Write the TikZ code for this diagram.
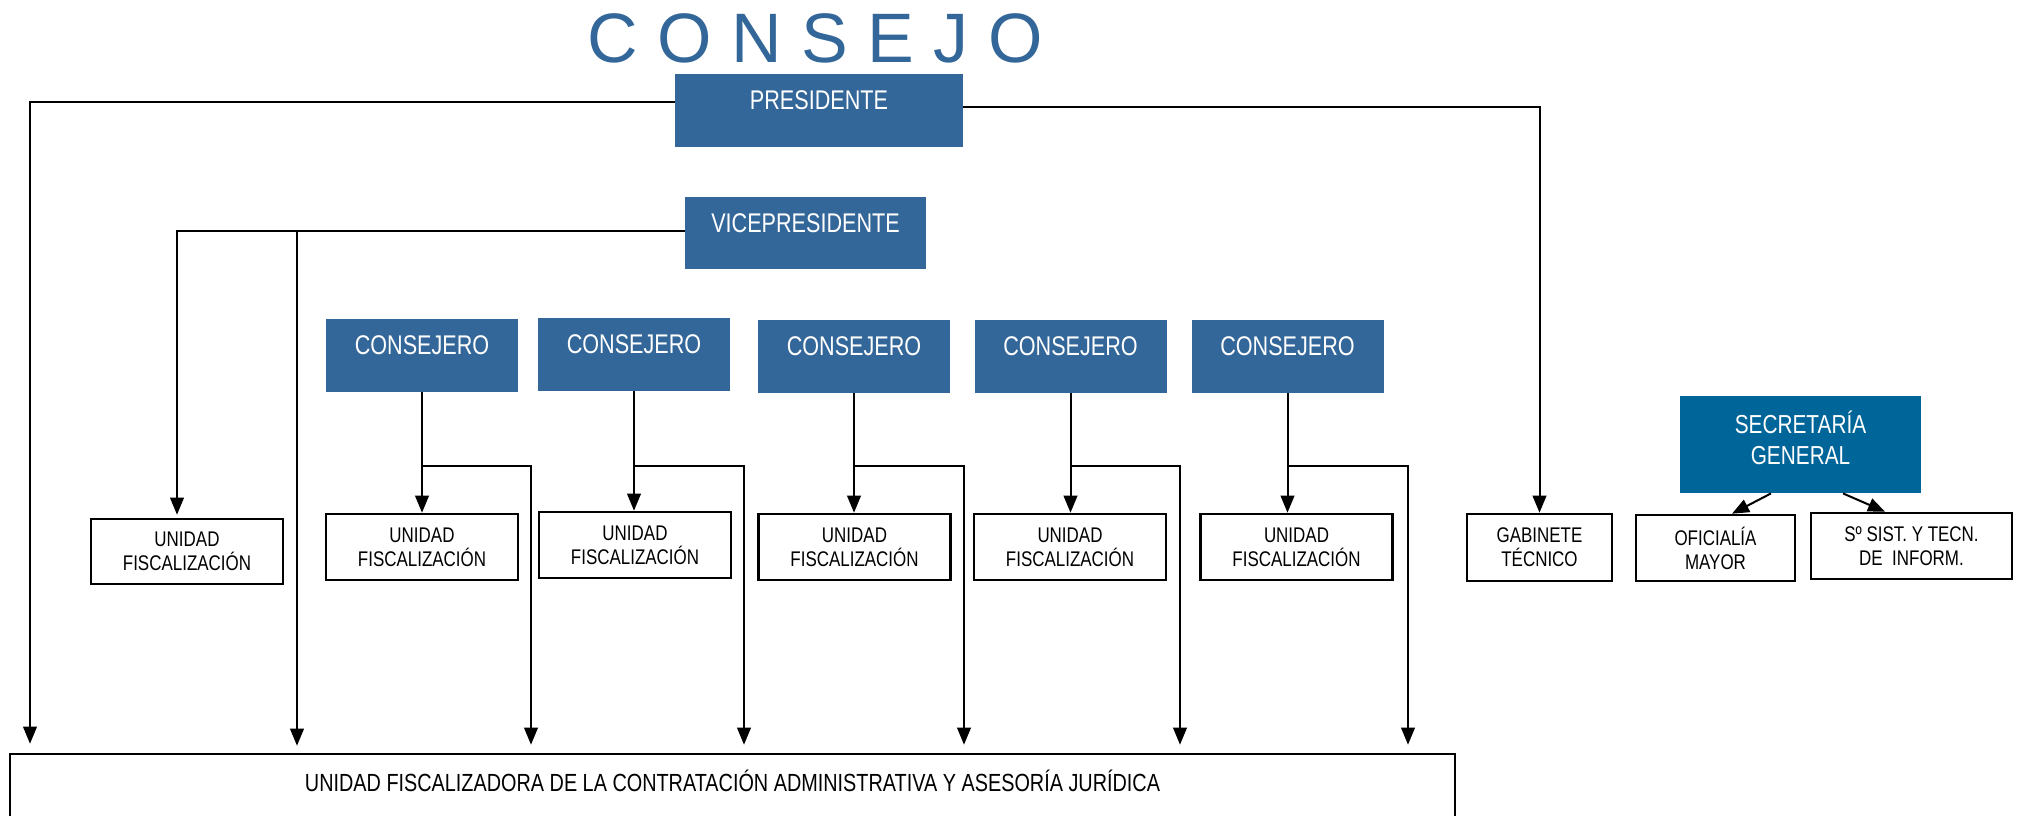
\documentclass[tikz,border=0pt]{standalone}
\usepackage{fontspec}
\setmainfont{Liberation Sans}
\newfontfamily\narrow{Liberation Sans}[FakeStretch=0.8]
\usetikzlibrary{arrows.meta,calc}
\definecolor{boxblue}{RGB}{52,103,153}
\definecolor{secblue}{RGB}{0,101,153}
\begin{document}
\begin{tikzpicture}[x=0.5pt,y=-0.5pt,
  titlestyle/.style={text=boxblue,inner sep=0pt,font=\fontsize{35}{40}\selectfont},
  bluebox/.style={fill=boxblue,text=white,inner sep=0pt,font=\narrow\fontsize{13.5}{16}\selectfont,text height=9.5pt,text depth=10.5pt},
  cbox/.style={bluebox,minimum width=96pt,minimum height=36.5pt,text depth=11pt},
  unitbox/.style={draw=black,line width=1.3pt,fill=white,align=center,inner sep=0pt,font=\narrow\fontsize{10.6}{12}\selectfont},
  ubox/.style={unitbox,minimum width=96pt,minimum height=33pt},
  conn/.style={draw=black,line width=1pt},
  arr/.style={conn,-{Triangle[length=8.5pt,width=6.8pt]}},
]
\useasboundingbox (0,0) rectangle (2020,815);

% title
\node[titlestyle] (title) at (815,38) {C O N S E J O};

% top boxes
\node[bluebox,minimum width=144pt,minimum height=36.5pt] (pres) at (819,110.5) {PRESIDENTE};
\node[bluebox,minimum width=120.5pt,minimum height=36pt,text depth=10pt] (vice) at (805.5,233) {VICEPRESIDENTE};

% consejeros
\node[cbox] (c1) at (422,355.5) {CONSEJERO};
\node[cbox] (c2) at (634,354.5) {CONSEJERO};
\node[cbox] (c3) at (854,356.5) {CONSEJERO};
\node[cbox] (c4) at (1070.5,356.5) {CONSEJERO};
\node[cbox] (c5) at (1287.5,356.5) {CONSEJERO};

% unidades
\node[ubox,minimum height=32.5pt] (u0) at (187,551.5) {UNIDAD\\FISCALIZACIÓN};
\node[ubox] (u1) at (422,547) {UNIDAD\\FISCALIZACIÓN};
\node[ubox] (u2) at (635,545) {UNIDAD\\FISCALIZACIÓN};
\node[ubox] (u3) at (854.5,547) {UNIDAD\\FISCALIZACIÓN};
\node[ubox] (u4) at (1070,547) {UNIDAD\\FISCALIZACIÓN};
\node[ubox] (u5) at (1296.5,547) {UNIDAD\\FISCALIZACIÓN};

% right group
\node[unitbox,minimum width=72.5pt,minimum height=33.5pt] (gab) at (1539.5,547.5) {GABINETE\\TÉCNICO};
\node[fill=secblue,inner sep=0pt,minimum width=120.5pt,minimum height=48.5pt,
  label={[name=sect,text=white,align=center,inner sep=0pt,font=\narrow\fontsize{13}{15.5}\selectfont,yshift=3.5pt]center:SECRETARÍA\\GENERAL}] (sec) at (1800.5,444.5) {};
\node[unitbox,minimum width=79.5pt,minimum height=33pt] (ofi) at (1715.5,548) {OFICIALÍA\\MAYOR};
\node[unitbox,minimum width=100.5pt,minimum height=33pt] (sist) at (1911.5,546) {Sº SIST. Y TECN.\\DE\ \ INFORM.};

% bottom
\node[draw=black,line width=1.3pt,fill=white,inner sep=0pt,minimum width=722.5pt,minimum height=40pt,
  font=\narrow\fontsize{12.4}{14}\selectfont,text height=8.8pt,text depth=11pt] (bot) at (732.5,794)
  {UNIDAD FISCALIZADORA DE LA CONTRATACIÓN ADMINISTRATIVA Y ASESORÍA JURÍDICA};

% coordinates
\coordinate (pL) at (30,0);
\coordinate (vL) at (177,0);
\coordinate (vB) at (297,231);
\coordinate (jy) at (0,466);
\coordinate (r1) at (531,466);
\coordinate (r2) at (744,466);
\coordinate (r3) at (964,466);
\coordinate (r4) at (1180,466);
\coordinate (r5) at (1408,466);

% president connectors
\draw[arr,shorten >=4.5pt] ([yshift=4.25pt]pres.west) -| (pL |- bot.north);
\draw[arr] ([yshift=1.75pt]pres.east) -| (gab.north);

% vicepresident connectors
\draw[arr,shorten >=1.5pt] ([yshift=1pt]vice.west) -| (vL |- u0.north);
\draw[arr,shorten >=3.5pt] (vB) -- (vB |- bot.north);

% consejero connectors
\foreach \i in {1,...,5}{
  \draw[arr] (c\i.south) -- (c\i.south |- u\i.north);
  \draw[arr,shorten >=4pt] (c\i.south |- jy) -- (r\i) -- (r\i |- bot.north);
}

% secretaria connectors
\draw[arr] ([xshift=-14.75pt]sec.south) -- ([xshift=8.25pt]ofi.north);
\draw[arr] ([xshift=21.25pt]sec.south) -- ([xshift=-13.25pt]sist.north);
\end{tikzpicture}
\end{document}
